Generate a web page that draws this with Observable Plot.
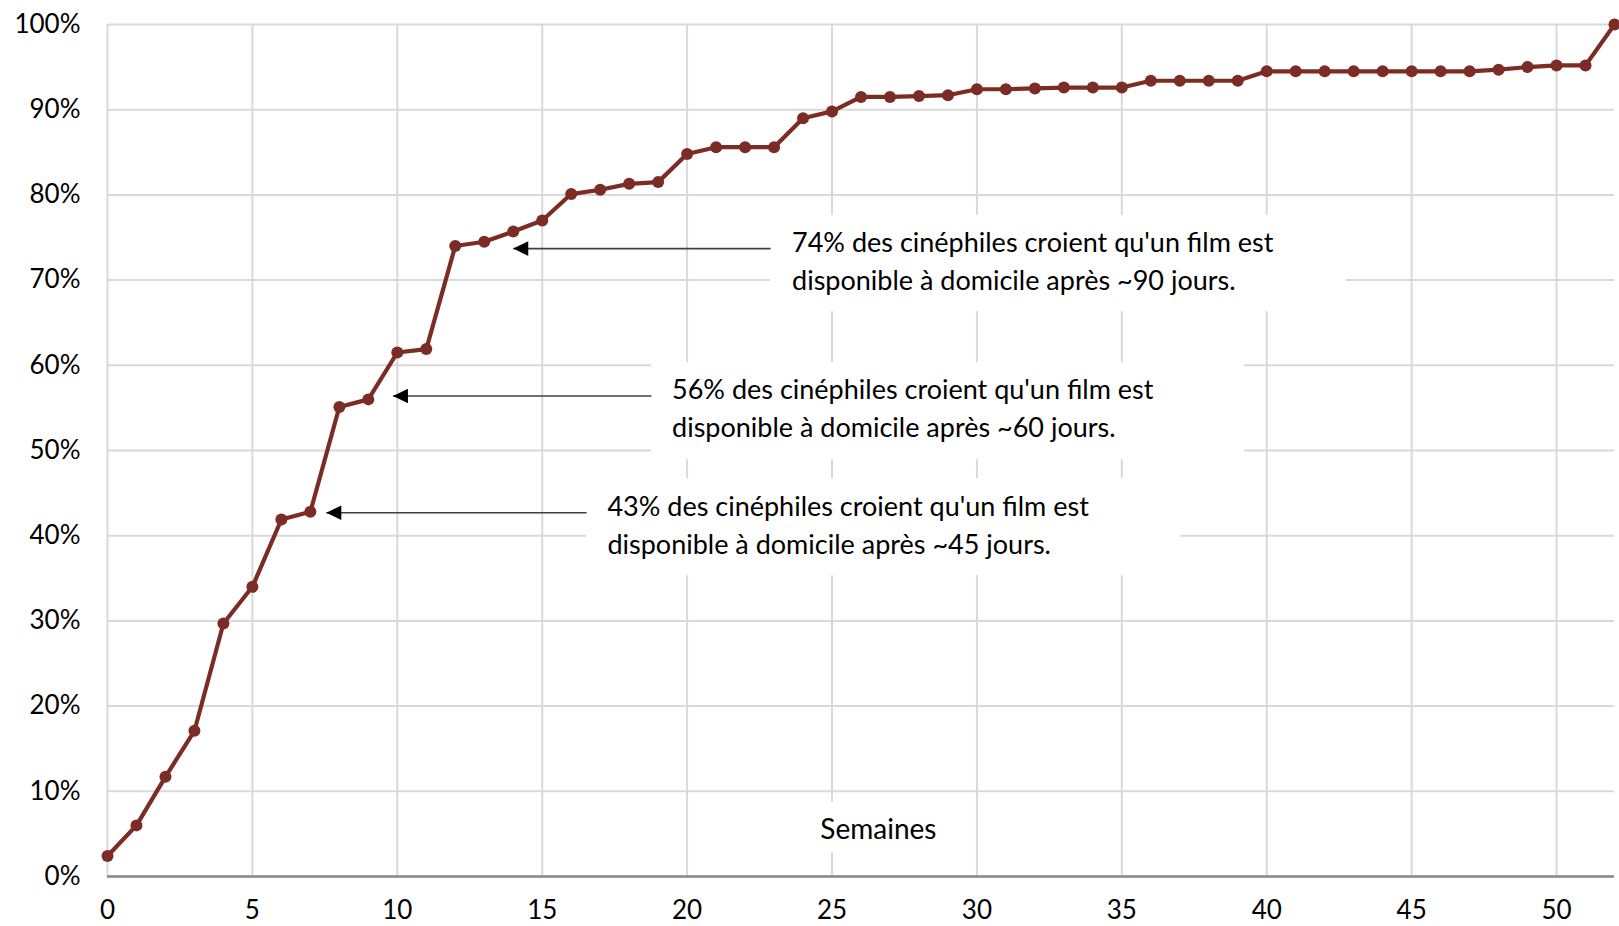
<!DOCTYPE html>
<html>
<head>
<meta charset="utf-8">
<script src="https://cdn.jsdelivr.net/npm/d3@7"></script>
<script src="https://cdn.jsdelivr.net/npm/@observablehq/plot@0.6"></script>
<style>
  html, body { margin: 0; padding: 0; background: #fff; }
  #chart svg { display: block; }
</style>
</head>
<body>
<div id="chart"></div>
<script>
// ---- Data ----
const weeks = [0,1,2,3,4,5,6,7,8,9,10,11,12,13,14,15,16,17,18,19,20,21,22,23,24,25,26,
               27,28,29,30,31,32,33,34,35,36,37,38,39,40,41,42,43,44,45,46,47,48,49,50,51,52];
const shares = [2.4,6.0,11.7,17.1,29.7,34.0,41.9,42.8,55.1,56.0,61.5,61.9,74.0,74.5,75.7,77.0,
                80.1,80.6,81.3,81.5,84.8,85.6,85.6,85.6,89.0,89.8,91.5,91.5,91.6,91.7,92.4,92.4,
                92.5,92.6,92.6,92.6,93.4,93.4,93.4,93.4,94.5,94.5,94.5,94.5,94.5,94.5,94.5,94.5,
                94.7,95.0,95.2,95.2,100];
const xTicks = [0,5,10,15,20,25,30,35,40,45,50];
const yTicks = [0,10,20,30,40,50,60,70,80,90,100];
const xLabel = "Semaines";

// Annotations: text, arrow tip (week, %)
const annoText = [
  "74% des cinéphiles croient qu'un film est\ndisponible à domicile après ~90 jours.",
  "56% des cinéphiles croient qu'un film est\ndisponible à domicile après ~60 jours.",
  "43% des cinéphiles croient qu'un film est\ndisponible à domicile après ~45 jours."
];
const annoTipWeek = [14.0, 9.85, 7.55];
const annoTipPct = [73.7, 56.4, 42.7];

// ---- Layout of annotation boxes (data units) ----
const annoBoxLeft = [22.88, 18.77, 16.53];
const annoBoxRight = [42.75, 39.23, 37.03];
const annoBoxTop = [77.6, 60.3, 46.7];
const annoBoxBottom = [66.3, 48.9, 35.3];
const annoTextWeek = [23.62, 19.48, 17.25];

const data = weeks.map((w, i) => ({week: w, pct: shares[i]}));
const annos = annoText.map((t, i) => ({
  text: t, tipX: annoTipWeek[i], y: annoTipPct[i],
  bx1: annoBoxLeft[i], bx2: annoBoxRight[i], by1: annoBoxBottom[i], by2: annoBoxTop[i],
  tx: annoTextWeek[i]
}));
const labelBox = [{x1: 24.0, x2: 29.2, y1: 2.8, y2: 8.7, x: 26.6, y: 5.4, text: xLabel}];

const lineColor = "#7b2c24";
const gridColor = "#d9d9d9";
const font = "Lato, 'Open Sans', sans-serif";
const tickFs = 26;
const annoFs = 27;

const leftTriangle = {
  draw(context) {
    context.moveTo(0, 0);
    context.lineTo(15, -7.3);
    context.lineTo(15, 7.3);
    context.closePath();
  }
};

const chart = Plot.plot({
  width: 1619,
  height: 926,
  marginLeft: 107,
  marginRight: 5,
  marginTop: 24,
  marginBottom: 50,
  style: {fontFamily: font, fontSize: tickFs + "px", color: "#000", background: "#fff"},
  x: {domain: [0, 52], label: null},
  y: {domain: [0, 100], label: null},
  marks: [
    Plot.ruleX(xTicks, {x: d => d, stroke: gridColor, strokeWidth: 2}),
    Plot.ruleY(yTicks, {y: d => d, stroke: gridColor, strokeWidth: 2}),
    Plot.rect(annos, {x1: "bx1", x2: "bx2", y1: "by1", y2: "by2", fill: "white"}),
    Plot.rect(labelBox, {x1: "x1", x2: "x2", y1: "y1", y2: "y2", fill: "white"}),
    Plot.ruleY([0], {stroke: "#898989", strokeWidth: 2.5}),
    Plot.axisX({ticks: xTicks, tickSize: 0, tickPadding: 24, tickFormat: d => String(d), fontSize: tickFs, label: null}),
    Plot.axisY({ticks: yTicks, tickSize: 0, tickPadding: 27, tickFormat: d => d + "%", fontSize: tickFs, label: null}),
    Plot.line(data, {x: "week", y: "pct", stroke: lineColor, strokeWidth: 4.2}),
    Plot.dot(data, {x: "week", y: "pct", r: 6, fill: lineColor, stroke: "none"}),
    Plot.link(annos, {x1: "tipX", x2: "bx1", y1: "y", y2: "y", stroke: "#404040", strokeWidth: 1.6}),
    Plot.dot(annos, {x: "tipX", y: "y", symbol: leftTriangle, fill: "#000", stroke: "none"}),
    Plot.text(annos, {x: "tx", y: "y", text: "text", textAnchor: "start", lineAnchor: "top",
                      lineHeight: 38 / annoFs, dy: -24, fontSize: annoFs, fill: "#000"}),
    Plot.text(labelBox, {x: "x", y: "y", text: "text", fontSize: 28, fill: "#000"})
  ]
});
document.getElementById("chart").appendChild(chart);
</script>
</body>
</html>
